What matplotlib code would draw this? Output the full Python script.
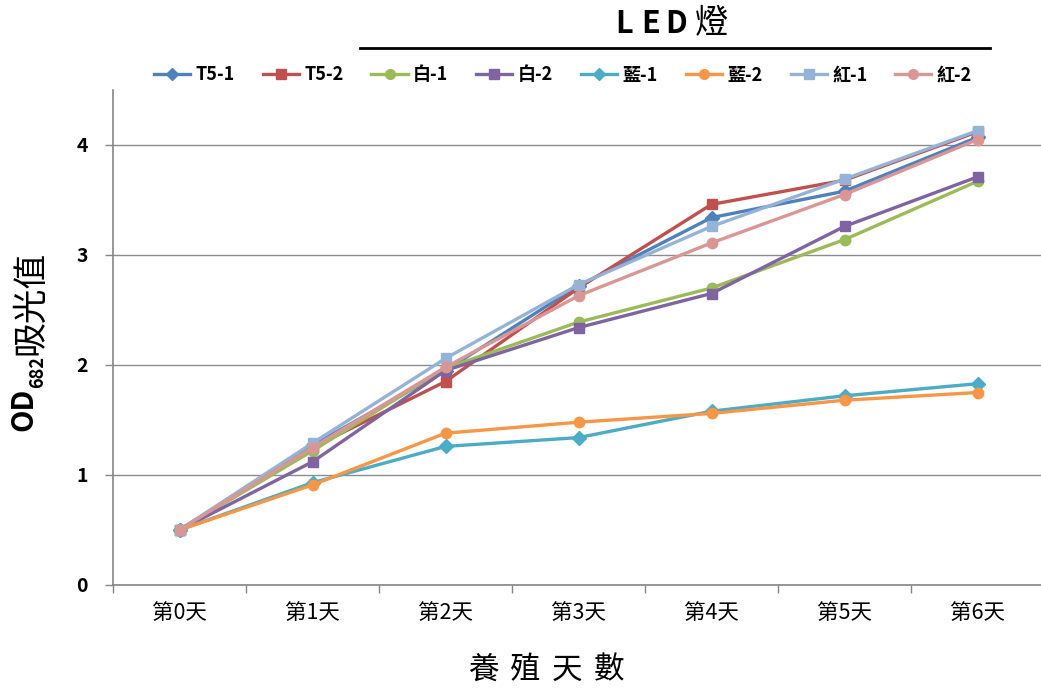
import matplotlib.pyplot as plt
from matplotlib.lines import Line2D

plt.rcParams['font.family'] = ['Noto Sans CJK TC', 'DejaVu Sans']

days = ["第0天", "第1天", "第2天", "第3天", "第4天", "第5天", "第6天"]

t5_1 = [0.50, 1.27, 1.95, 2.72, 3.34, 3.58, 4.07]
t5_2 = [0.50, 1.25, 1.85, 2.70, 3.46, 3.68, 4.12]
white_1 = [0.50, 1.22, 1.97, 2.39, 2.70, 3.14, 3.67]
white_2 = [0.50, 1.12, 1.95, 2.34, 2.65, 3.26, 3.71]
blue_1 = [0.50, 0.93, 1.26, 1.34, 1.58, 1.72, 1.83]
blue_2 = [0.50, 0.91, 1.38, 1.48, 1.56, 1.68, 1.75]
red_1 = [0.50, 1.29, 2.06, 2.73, 3.26, 3.69, 4.13]
red_2 = [0.50, 1.25, 1.98, 2.63, 3.11, 3.55, 4.05]

series = [
    ("T5-1", t5_1, "#4F81BD", "D"),
    ("T5-2", t5_2, "#C0504D", "s"),
    ("白-1", white_1, "#9BBB59", "o"),
    ("白-2", white_2, "#8064A2", "s"),
    ("藍-1", blue_1, "#4BACC6", "D"),
    ("藍-2", blue_2, "#F79646", "o"),
    ("紅-1", red_1, "#95B3D7", "s"),
    ("紅-2", red_2, "#D99694", "o"),
]

W, H = 1041, 689
fig = plt.figure(figsize=(W / 100, H / 100), dpi=100)
ax = fig.add_axes([113 / W, 1 - 585 / H, 931 / W, 495 / H])


def px(x, y):
    # pixel position (from top-left) -> figure fraction
    return x / W, 1 - y / H


x = list(range(len(days)))
for name, vals, color, mk in series:
    ms = 7 if mk == "D" else 7.5
    ax.plot(x, vals, color=color, lw=2.4, marker=mk, ms=ms, label=name,
            markeredgecolor=color)

ax.set_xlim(-0.5, len(days) - 0.5)
ax.set_ylim(0, 4.5)
ax.set_yticks([0, 1, 2, 3, 4])
ax.set_xticks(x)
ax.set_xticklabels(days, fontsize=15.5)
ax.set_xticks([i + 0.5 for i in range(-1, len(days))], minor=True)
ax.tick_params(axis="x", which="major", length=0, pad=12)
ax.tick_params(axis="x", which="minor", length=6, color="#868686", width=1)
ax.tick_params(axis="y", length=6, color="#868686", width=1, pad=12)
for lbl in ax.get_yticklabels():
    lbl.set_fontsize(14)
    lbl.set_fontweight("bold")

ax.grid(axis="y", color="#8c8c8c", lw=1)
ax.set_axisbelow(True)
for side in ("top", "right"):
    ax.spines[side].set_visible(False)
for side in ("left", "bottom"):
    ax.spines[side].set_color("#868686")
    ax.spines[side].set_linewidth(1.2)

# legend row
handles = [Line2D([], [], color=c, lw=2.4, marker=m, ms=6.5 if m == "D" else 7)
           for _, _, c, m in series]
fig.legend(handles, [s[0] for s in series], loc="center", ncol=8,
           bbox_to_anchor=px(563, 75), frameon=False,
           prop={"size": 13, "weight": "bold"}, handlelength=2.0,
           handletextpad=0.3, columnspacing=1.55)

# header over the LED groups, letters spread out
for ch, cx in zip("LED燈", [624, 651, 676, 711]):
    fig.text(*px(cx, 24), ch, ha="center", va="center",
             fontsize=22 if ch != "燈" else 24,
             fontweight="bold" if ch != "燈" else "normal")
fig.add_artist(Line2D([360 / W, 990 / W], [1 - 48 / H, 1 - 48 / H],
                      color="black", lw=2))

# x axis title
for ch, cx in zip("養殖天數", [483, 525, 567, 609]):
    fig.text(*px(cx, 670), ch, ha="center", va="center", fontsize=22)

# y axis title: OD with subscript 682
fig.text(*px(32, 431), "OD", rotation=90, rotation_mode="anchor",
         ha="left", va="baseline", fontsize=21, fontweight="bold")
fig.text(*px(43, 388), "682", rotation=90, rotation_mode="anchor",
         ha="left", va="baseline", fontsize=13, fontweight="bold")
fig.text(*px(40, 355), "吸光值", rotation=90, rotation_mode="anchor",
         ha="left", va="baseline", fontsize=25)

fig.savefig("out.png", dpi=100, facecolor="white")
